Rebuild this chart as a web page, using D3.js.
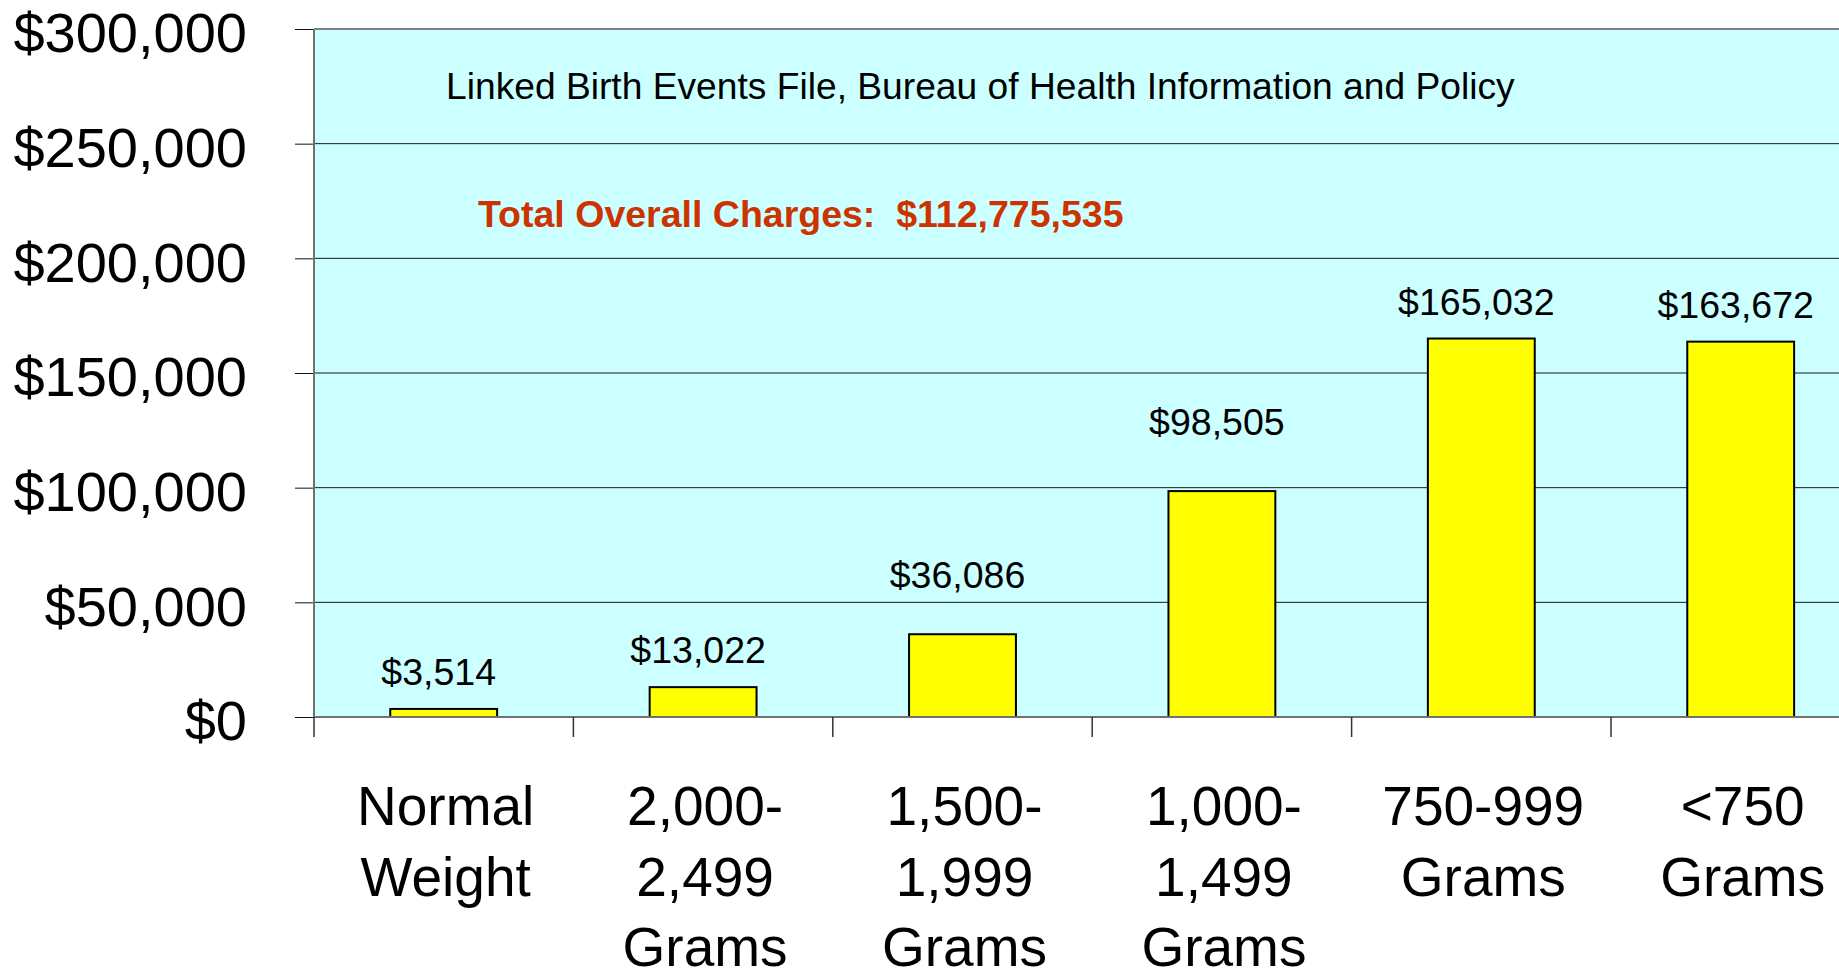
<!DOCTYPE html>
<html>
<head>
<meta charset="utf-8">
<script src="https://cdn.jsdelivr.net/npm/d3@7"></script>
<style>
  html, body { margin: 0; padding: 0; background: #fff; overflow: hidden; }
  svg { display: block; font-family: "Liberation Sans", Arial, sans-serif; }
</style>
</head>
<body>
<svg id="chart" width="1839" height="974"></svg>
<script>
// ── Data ─────────────────────────────────────────────────────────────
const categories = [
  'Normal\nWeight',
  '2,000-\n2,499\nGrams',
  '1,500-\n1,999\nGrams',
  '1,000-\n1,499\nGrams',
  '750-999\nGrams',
  '<750\nGrams'
];
const charges = [3514, 13022, 36086, 98505, 165032, 163672];
const yTicks = [0, 50000, 100000, 150000, 200000, 250000, 300000];
const sourceNote = 'Linked Birth Events File, Bureau of Health Information and Policy';
const totalCharges = 112775535;

// manual nudges the original author gave some value labels (px upward)
const LABEL_LIFT = [0, 0, 22, 32, 0, 0];

// ── Layout ───────────────────────────────────────────────────────────
const W = 1839;
const plot = { left: 314, top: 29, bottom: 717, step: 259.4 };

const svg = d3.select('#chart');

const x = d3.scaleBand()
  .domain(categories)
  .range([plot.left, plot.left + plot.step * categories.length])
  .padding(0);

const y = d3.scaleLinear()
  .domain([0, 300000])
  .range([plot.bottom, plot.top]);

const barW = x.bandwidth() * 0.412;
const money = d => '$' + d3.format(',')(d);

// Plot area background
svg.append('rect')
  .attr('x', plot.left)
  .attr('y', y(300000))
  .attr('width', W - plot.left)
  .attr('height', y(0) - y(300000))
  .attr('fill', '#ccffff');

// Gridlines
svg.append('g')
  .selectAll('line')
  .data(yTicks.filter(t => t > 0 && t < 300000))
  .join('line')
    .attr('x1', plot.left).attr('x2', W)
    .attr('y1', d => y(d)).attr('y2', d => y(d))
    .attr('stroke', '#1a1a1a')
    .attr('stroke-width', 1);

// Y axis with labels
const yAxis = svg.append('g')
  .attr('transform', `translate(${plot.left},0)`)
  .call(d3.axisLeft(y)
    .tickValues(yTicks)
    .tickSizeInner(19)
    .tickSizeOuter(0)
    .tickPadding(48)
    .tickFormat(money));
yAxis.select('.domain').remove();
yAxis.selectAll('.tick line').attr('stroke', '#111').attr('stroke-width', 1);
yAxis.selectAll('.tick text')
  .attr('font-size', 56)
  .attr('font-family', '"Liberation Sans", Arial, sans-serif')
  .attr('fill', '#000')
  .attr('dy', '0.41em');

// Plot border (top) and axis lines
svg.append('line')
  .attr('x1', plot.left).attr('x2', W)
  .attr('y1', y(300000)).attr('y2', y(300000))
  .attr('stroke', '#808080').attr('stroke-width', 2);
svg.append('line')
  .attr('x1', plot.left).attr('x2', plot.left)
  .attr('y1', y(300000)).attr('y2', y(0))
  .attr('stroke', '#707070').attr('stroke-width', 2);

// Bars
svg.append('g')
  .selectAll('rect')
  .data(charges)
  .join('rect')
    .attr('x', (d, i) => x(categories[i]) + (x.bandwidth() - barW) / 2)
    .attr('y', d => y(d))
    .attr('width', barW)
    .attr('height', d => y(0) - y(d))
    .attr('fill', '#ffff00')
    .attr('stroke', '#000')
    .attr('stroke-width', 2);

// X axis line + boundary ticks
svg.append('line')
  .attr('x1', plot.left).attr('x2', W)
  .attr('y1', y(0)).attr('y2', y(0))
  .attr('stroke', '#707070').attr('stroke-width', 2);

const boundaries = categories.map(c => x(c)).concat([x.range()[1]]);
svg.append('g')
  .selectAll('line')
  .data(boundaries)
  .join('line')
    .attr('x1', d => d).attr('x2', d => d)
    .attr('y1', y(0)).attr('y2', y(0) + 20)
    .attr('stroke', '#333')
    .attr('stroke-width', 1.5);

// Category labels (multi-line)
const catText = svg.append('g')
  .selectAll('text')
  .data(categories)
  .join('text')
    .attr('text-anchor', 'middle')
    .attr('font-size', 55)
    .attr('fill', '#000');
catText.each(function(d) {
  const cx = x(d) + x.bandwidth() / 2 + 2;
  d3.select(this).selectAll('tspan')
    .data(d.split('\n'))
    .join('tspan')
      .attr('x', cx)
      .attr('y', (line, j) => 825 + j * 70.5)
      .text(line => line);
});

// Value labels
svg.append('g')
  .selectAll('text')
  .data(charges)
  .join('text')
    .attr('x', (d, i) => x(categories[i]) + x.bandwidth() / 2 - 5)
    .attr('y', (d, i) => y(d) - 24 - LABEL_LIFT[i])
    .attr('text-anchor', 'middle')
    .attr('font-size', 37.5)
    .attr('fill', '#000')
    .text(money);

// Annotations
svg.append('text')
  .attr('x', 446)
  .attr('y', 99)
  .attr('font-size', 37.2)
  .attr('fill', '#000')
  .text(sourceNote);

svg.append('text')
  .attr('x', 478)
  .attr('y', 227)
  .attr('font-size', 37.5)
  .attr('font-weight', 'bold')
  .attr('fill', '#cc3300')
  .attr('xml:space', 'preserve')
  .style('white-space', 'pre')
  .text('Total Overall Charges:  ' + money(totalCharges));
</script>
</body>
</html>
